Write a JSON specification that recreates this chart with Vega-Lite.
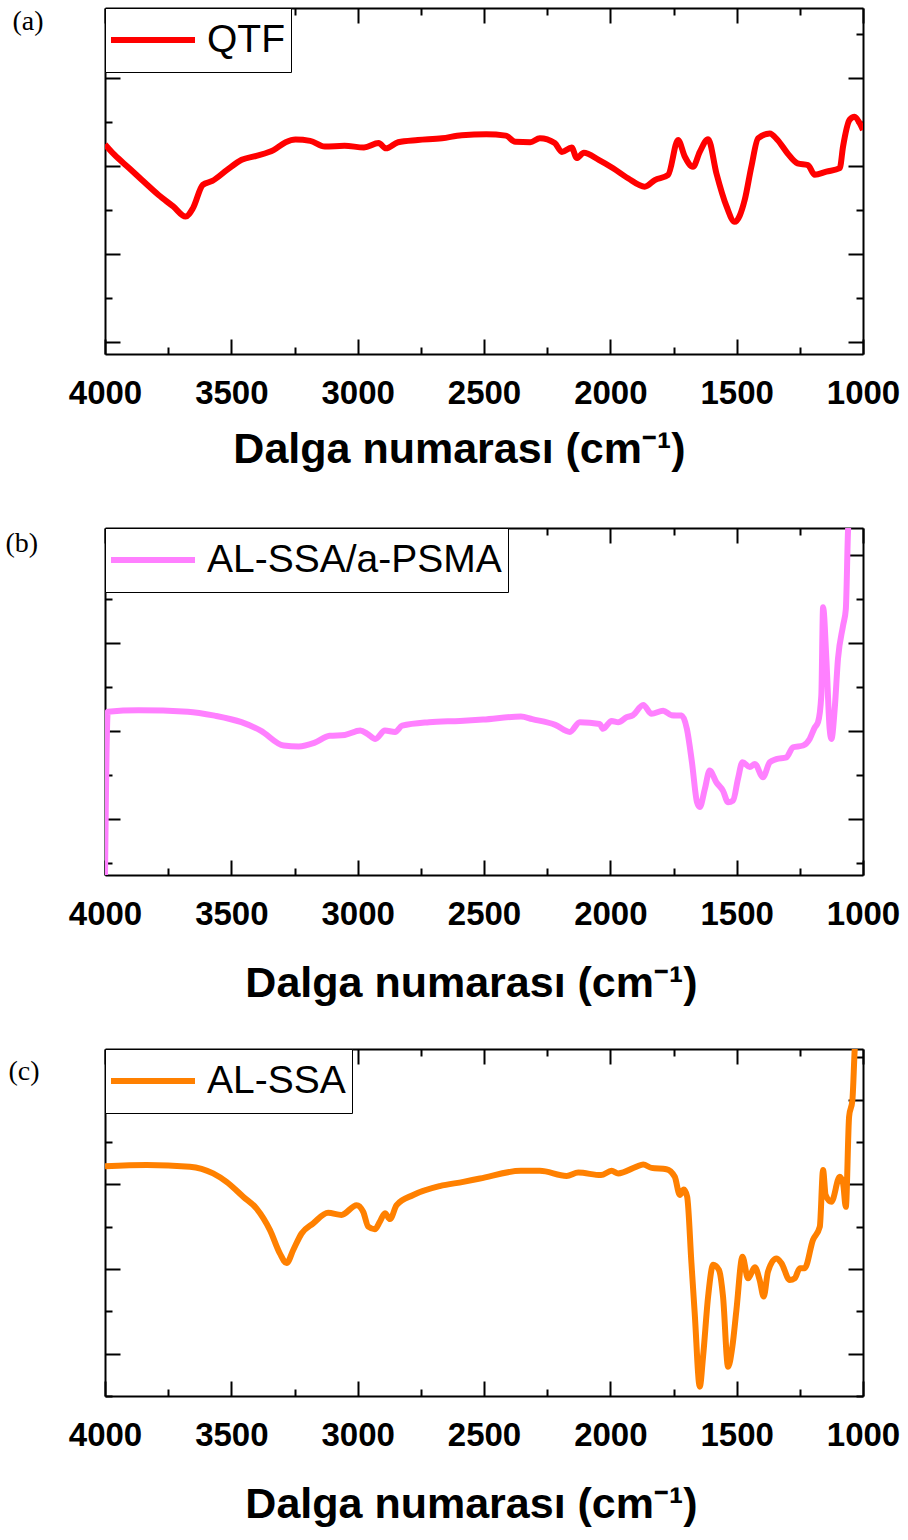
{
  "$schema": "https://vega.github.io/schema/vega-lite/v6.json",
  "background": "white",
  "padding": {"left": 5, "top": 7, "right": 5, "bottom": 5},
  "bounds": "flush",
  "spacing": 174,
  "config": {
    "view": {"stroke": null},
    "axis": {"grid": false, "domainColor": "black", "domainWidth": 2, "tickColor": "black", "tickWidth": 2, "labelColor": "black", "titleColor": "black"},
    "legend": {"orient": "top-left", "offset": 0, "strokeColor": "black", "strokeWidth": 1, "fillColor": "white", "padding": 6, "clipHeight": 52, "symbolType": "stroke", "symbolSize": 7396, "symbolStrokeWidth": 6, "symbolOffset": -5, "labelFontSize": 39, "labelFont": "Liberation Sans", "labelColor": "black", "labelOffset": 9, "labelLimit": 0}
  },
  "resolve": {"scale": {"x": "independent", "y": "independent", "color": "independent"}, "legend": {"color": "independent"}},
  "datasets": {
    "a": [
      {"wn": 4000, "t": 4.49, "s": "QTF"}, {"wn": 3962, "t": 4.25, "s": "QTF"}, {"wn": 3904, "t": 3.95, "s": "QTF"},
      {"wn": 3846, "t": 3.64, "s": "QTF"}, {"wn": 3788, "t": 3.34, "s": "QTF"}, {"wn": 3730, "t": 3.08, "s": "QTF"},
      {"wn": 3681, "t": 2.85, "s": "QTF"}, {"wn": 3652, "t": 3.04, "s": "QTF"}, {"wn": 3613, "t": 3.57, "s": "QTF"},
      {"wn": 3575, "t": 3.66, "s": "QTF"}, {"wn": 3517, "t": 3.91, "s": "QTF"}, {"wn": 3459, "t": 4.14, "s": "QTF"},
      {"wn": 3401, "t": 4.23, "s": "QTF"}, {"wn": 3333, "t": 4.36, "s": "QTF"}, {"wn": 3285, "t": 4.54, "s": "QTF"},
      {"wn": 3246, "t": 4.60, "s": "QTF"}, {"wn": 3188, "t": 4.57, "s": "QTF"}, {"wn": 3130, "t": 4.44, "s": "QTF"},
      {"wn": 3052, "t": 4.46, "s": "QTF"}, {"wn": 2975, "t": 4.42, "s": "QTF"}, {"wn": 2917, "t": 4.52, "s": "QTF"},
      {"wn": 2888, "t": 4.40, "s": "QTF"}, {"wn": 2840, "t": 4.54, "s": "QTF"}, {"wn": 2762, "t": 4.59, "s": "QTF"},
      {"wn": 2666, "t": 4.63, "s": "QTF"}, {"wn": 2588, "t": 4.70, "s": "QTF"}, {"wn": 2491, "t": 4.72, "s": "QTF"},
      {"wn": 2414, "t": 4.69, "s": "QTF"}, {"wn": 2376, "t": 4.55, "s": "QTF"}, {"wn": 2317, "t": 4.54, "s": "QTF"},
      {"wn": 2279, "t": 4.63, "s": "QTF"}, {"wn": 2220, "t": 4.52, "s": "QTF"}, {"wn": 2192, "t": 4.32, "s": "QTF"},
      {"wn": 2153, "t": 4.42, "s": "QTF"}, {"wn": 2133, "t": 4.18, "s": "QTF"}, {"wn": 2105, "t": 4.30, "s": "QTF"},
      {"wn": 2046, "t": 4.14, "s": "QTF"}, {"wn": 1989, "t": 3.95, "s": "QTF"}, {"wn": 1930, "t": 3.72, "s": "QTF"},
      {"wn": 1864, "t": 3.53, "s": "QTF"}, {"wn": 1824, "t": 3.68, "s": "QTF"}, {"wn": 1771, "t": 3.80, "s": "QTF"},
      {"wn": 1732, "t": 4.59, "s": "QTF"}, {"wn": 1705, "t": 4.21, "s": "QTF"}, {"wn": 1673, "t": 3.98, "s": "QTF"},
      {"wn": 1646, "t": 4.32, "s": "QTF"}, {"wn": 1613, "t": 4.61, "s": "QTF"}, {"wn": 1580, "t": 3.83, "s": "QTF"},
      {"wn": 1540, "t": 3.08, "s": "QTF"}, {"wn": 1508, "t": 2.73, "s": "QTF"}, {"wn": 1468, "t": 3.23, "s": "QTF"},
      {"wn": 1442, "t": 3.98, "s": "QTF"}, {"wn": 1415, "t": 4.63, "s": "QTF"}, {"wn": 1369, "t": 4.74, "s": "QTF"},
      {"wn": 1338, "t": 4.59, "s": "QTF"}, {"wn": 1299, "t": 4.29, "s": "QTF"}, {"wn": 1259, "t": 4.06, "s": "QTF"},
      {"wn": 1218, "t": 4.02, "s": "QTF"}, {"wn": 1191, "t": 3.80, "s": "QTF"}, {"wn": 1145, "t": 3.87, "s": "QTF"},
      {"wn": 1092, "t": 3.95, "s": "QTF"}, {"wn": 1079, "t": 4.44, "s": "QTF"}, {"wn": 1053, "t": 5.05, "s": "QTF"},
      {"wn": 1033, "t": 5.12, "s": "QTF"}, {"wn": 1013, "t": 4.97, "s": "QTF"}, {"wn": 1000, "t": 4.82, "s": "QTF"}
    ],
    "b": [
      {"wn": 4000, "t": -0.3, "s": "AL-SSA/a-PSMA"}, {"wn": 3989, "t": 3.44, "s": "AL-SSA/a-PSMA"}, {"wn": 3868, "t": 3.47, "s": "AL-SSA/a-PSMA"},
      {"wn": 3672, "t": 3.44, "s": "AL-SSA/a-PSMA"}, {"wn": 3566, "t": 3.35, "s": "AL-SSA/a-PSMA"}, {"wn": 3460, "t": 3.20, "s": "AL-SSA/a-PSMA"},
      {"wn": 3384, "t": 3.01, "s": "AL-SSA/a-PSMA"}, {"wn": 3293, "t": 2.67, "s": "AL-SSA/a-PSMA"}, {"wn": 3233, "t": 2.65, "s": "AL-SSA/a-PSMA"},
      {"wn": 3172, "t": 2.73, "s": "AL-SSA/a-PSMA"}, {"wn": 3111, "t": 2.89, "s": "AL-SSA/a-PSMA"}, {"wn": 3051, "t": 2.91, "s": "AL-SSA/a-PSMA"},
      {"wn": 2990, "t": 3.01, "s": "AL-SSA/a-PSMA"}, {"wn": 2960, "t": 2.93, "s": "AL-SSA/a-PSMA"}, {"wn": 2930, "t": 2.82, "s": "AL-SSA/a-PSMA"},
      {"wn": 2892, "t": 3.01, "s": "AL-SSA/a-PSMA"}, {"wn": 2852, "t": 2.98, "s": "AL-SSA/a-PSMA"}, {"wn": 2824, "t": 3.12, "s": "AL-SSA/a-PSMA"},
      {"wn": 2718, "t": 3.20, "s": "AL-SSA/a-PSMA"}, {"wn": 2595, "t": 3.23, "s": "AL-SSA/a-PSMA"}, {"wn": 2504, "t": 3.26, "s": "AL-SSA/a-PSMA"},
      {"wn": 2354, "t": 3.33, "s": "AL-SSA/a-PSMA"}, {"wn": 2309, "t": 3.27, "s": "AL-SSA/a-PSMA"}, {"wn": 2218, "t": 3.14, "s": "AL-SSA/a-PSMA"},
      {"wn": 2160, "t": 2.98, "s": "AL-SSA/a-PSMA"}, {"wn": 2121, "t": 3.20, "s": "AL-SSA/a-PSMA"}, {"wn": 2042, "t": 3.16, "s": "AL-SSA/a-PSMA"},
      {"wn": 2029, "t": 3.05, "s": "AL-SSA/a-PSMA"}, {"wn": 1995, "t": 3.23, "s": "AL-SSA/a-PSMA"}, {"wn": 1969, "t": 3.20, "s": "AL-SSA/a-PSMA"},
      {"wn": 1936, "t": 3.31, "s": "AL-SSA/a-PSMA"}, {"wn": 1910, "t": 3.36, "s": "AL-SSA/a-PSMA"}, {"wn": 1870, "t": 3.59, "s": "AL-SSA/a-PSMA"},
      {"wn": 1837, "t": 3.39, "s": "AL-SSA/a-PSMA"}, {"wn": 1791, "t": 3.46, "s": "AL-SSA/a-PSMA"}, {"wn": 1758, "t": 3.36, "s": "AL-SSA/a-PSMA"},
      {"wn": 1718, "t": 3.35, "s": "AL-SSA/a-PSMA"}, {"wn": 1697, "t": 3.05, "s": "AL-SSA/a-PSMA"}, {"wn": 1677, "t": 2.29, "s": "AL-SSA/a-PSMA"},
      {"wn": 1657, "t": 1.38, "s": "AL-SSA/a-PSMA"}, {"wn": 1646, "t": 1.27, "s": "AL-SSA/a-PSMA"}, {"wn": 1626, "t": 1.68, "s": "AL-SSA/a-PSMA"},
      {"wn": 1607, "t": 2.10, "s": "AL-SSA/a-PSMA"}, {"wn": 1580, "t": 1.83, "s": "AL-SSA/a-PSMA"}, {"wn": 1554, "t": 1.64, "s": "AL-SSA/a-PSMA"},
      {"wn": 1534, "t": 1.38, "s": "AL-SSA/a-PSMA"}, {"wn": 1514, "t": 1.42, "s": "AL-SSA/a-PSMA"}, {"wn": 1495, "t": 1.91, "s": "AL-SSA/a-PSMA"},
      {"wn": 1477, "t": 2.29, "s": "AL-SSA/a-PSMA"}, {"wn": 1448, "t": 2.18, "s": "AL-SSA/a-PSMA"}, {"wn": 1428, "t": 2.25, "s": "AL-SSA/a-PSMA"},
      {"wn": 1396, "t": 1.95, "s": "AL-SSA/a-PSMA"}, {"wn": 1369, "t": 2.29, "s": "AL-SSA/a-PSMA"}, {"wn": 1343, "t": 2.36, "s": "AL-SSA/a-PSMA"},
      {"wn": 1303, "t": 2.40, "s": "AL-SSA/a-PSMA"}, {"wn": 1277, "t": 2.63, "s": "AL-SSA/a-PSMA"}, {"wn": 1237, "t": 2.67, "s": "AL-SSA/a-PSMA"},
      {"wn": 1211, "t": 2.82, "s": "AL-SSA/a-PSMA"}, {"wn": 1191, "t": 3.08, "s": "AL-SSA/a-PSMA"}, {"wn": 1178, "t": 3.20, "s": "AL-SSA/a-PSMA"},
      {"wn": 1165, "t": 3.80, "s": "AL-SSA/a-PSMA"}, {"wn": 1158, "t": 5.81, "s": "AL-SSA/a-PSMA"}, {"wn": 1145, "t": 4.64, "s": "AL-SSA/a-PSMA"},
      {"wn": 1132, "t": 3.05, "s": "AL-SSA/a-PSMA"}, {"wn": 1125, "t": 2.82, "s": "AL-SSA/a-PSMA"}, {"wn": 1112, "t": 3.50, "s": "AL-SSA/a-PSMA"},
      {"wn": 1099, "t": 4.64, "s": "AL-SSA/a-PSMA"}, {"wn": 1079, "t": 5.39, "s": "AL-SSA/a-PSMA"}, {"wn": 1068, "t": 5.77, "s": "AL-SSA/a-PSMA"},
      {"wn": 1059, "t": 7.59, "s": "AL-SSA/a-PSMA"}, {"wn": 1056, "t": 7.9, "s": "AL-SSA/a-PSMA"}
    ],
    "c": [
      {"wn": 4000, "t": 4.43, "s": "AL-SSA"}, {"wn": 3835, "t": 4.46, "s": "AL-SSA"}, {"wn": 3664, "t": 4.42, "s": "AL-SSA"},
      {"wn": 3572, "t": 4.26, "s": "AL-SSA"}, {"wn": 3519, "t": 4.06, "s": "AL-SSA"}, {"wn": 3453, "t": 3.71, "s": "AL-SSA"},
      {"wn": 3400, "t": 3.43, "s": "AL-SSA"}, {"wn": 3347, "t": 2.92, "s": "AL-SSA"}, {"wn": 3308, "t": 2.37, "s": "AL-SSA"},
      {"wn": 3281, "t": 2.14, "s": "AL-SSA"}, {"wn": 3255, "t": 2.45, "s": "AL-SSA"}, {"wn": 3222, "t": 2.84, "s": "AL-SSA"},
      {"wn": 3176, "t": 3.08, "s": "AL-SSA"}, {"wn": 3117, "t": 3.33, "s": "AL-SSA"}, {"wn": 3064, "t": 3.28, "s": "AL-SSA"},
      {"wn": 3004, "t": 3.51, "s": "AL-SSA"}, {"wn": 2978, "t": 3.35, "s": "AL-SSA"}, {"wn": 2958, "t": 3.00, "s": "AL-SSA"},
      {"wn": 2932, "t": 2.94, "s": "AL-SSA"}, {"wn": 2912, "t": 3.12, "s": "AL-SSA"}, {"wn": 2892, "t": 3.32, "s": "AL-SSA"},
      {"wn": 2872, "t": 3.18, "s": "AL-SSA"}, {"wn": 2846, "t": 3.51, "s": "AL-SSA"}, {"wn": 2780, "t": 3.75, "s": "AL-SSA"},
      {"wn": 2675, "t": 3.96, "s": "AL-SSA"}, {"wn": 2582, "t": 4.06, "s": "AL-SSA"}, {"wn": 2516, "t": 4.14, "s": "AL-SSA"},
      {"wn": 2354, "t": 4.32, "s": "AL-SSA"}, {"wn": 2279, "t": 4.32, "s": "AL-SSA"}, {"wn": 2173, "t": 4.20, "s": "AL-SSA"},
      {"wn": 2127, "t": 4.28, "s": "AL-SSA"}, {"wn": 2037, "t": 4.22, "s": "AL-SSA"}, {"wn": 1995, "t": 4.32, "s": "AL-SSA"},
      {"wn": 1969, "t": 4.26, "s": "AL-SSA"}, {"wn": 1896, "t": 4.42, "s": "AL-SSA"}, {"wn": 1870, "t": 4.47, "s": "AL-SSA"},
      {"wn": 1837, "t": 4.39, "s": "AL-SSA"}, {"wn": 1778, "t": 4.36, "s": "AL-SSA"}, {"wn": 1745, "t": 4.18, "s": "AL-SSA"},
      {"wn": 1725, "t": 3.75, "s": "AL-SSA"}, {"wn": 1709, "t": 3.88, "s": "AL-SSA"}, {"wn": 1696, "t": 3.71, "s": "AL-SSA"},
      {"wn": 1679, "t": 2.14, "s": "AL-SSA"}, {"wn": 1666, "t": 0.95, "s": "AL-SSA"}, {"wn": 1646, "t": -0.78, "s": "AL-SSA"},
      {"wn": 1633, "t": -0.07, "s": "AL-SSA"}, {"wn": 1613, "t": 1.35, "s": "AL-SSA"}, {"wn": 1593, "t": 2.10, "s": "AL-SSA"},
      {"wn": 1570, "t": 1.98, "s": "AL-SSA"}, {"wn": 1554, "t": 1.35, "s": "AL-SSA"}, {"wn": 1534, "t": -0.31, "s": "AL-SSA"},
      {"wn": 1517, "t": 0.17, "s": "AL-SSA"}, {"wn": 1501, "t": 1.03, "s": "AL-SSA"}, {"wn": 1477, "t": 2.29, "s": "AL-SSA"},
      {"wn": 1455, "t": 1.78, "s": "AL-SSA"}, {"wn": 1428, "t": 2.04, "s": "AL-SSA"}, {"wn": 1409, "t": 1.74, "s": "AL-SSA"},
      {"wn": 1393, "t": 1.35, "s": "AL-SSA"}, {"wn": 1376, "t": 1.94, "s": "AL-SSA"}, {"wn": 1343, "t": 2.25, "s": "AL-SSA"},
      {"wn": 1323, "t": 2.14, "s": "AL-SSA"}, {"wn": 1290, "t": 1.74, "s": "AL-SSA"}, {"wn": 1270, "t": 1.78, "s": "AL-SSA"},
      {"wn": 1250, "t": 2.02, "s": "AL-SSA"}, {"wn": 1231, "t": 2.02, "s": "AL-SSA"}, {"wn": 1198, "t": 2.69, "s": "AL-SSA"},
      {"wn": 1171, "t": 3.00, "s": "AL-SSA"}, {"wn": 1158, "t": 4.34, "s": "AL-SSA"}, {"wn": 1148, "t": 3.75, "s": "AL-SSA"},
      {"wn": 1125, "t": 3.59, "s": "AL-SSA"}, {"wn": 1092, "t": 4.18, "s": "AL-SSA"}, {"wn": 1079, "t": 4.03, "s": "AL-SSA"},
      {"wn": 1068, "t": 3.47, "s": "AL-SSA"}, {"wn": 1055, "t": 5.60, "s": "AL-SSA"}, {"wn": 1042, "t": 5.99, "s": "AL-SSA"},
      {"wn": 1033, "t": 7.17, "s": "AL-SSA"}, {"wn": 1030, "t": 7.5, "s": "AL-SSA"}
    ]
  },
  "vconcat": [
    {
      "width": 758, "height": 346,
      "data": {"name": "a"},
      "layer": [
        {
          "mark": {"type": "line", "strokeWidth": 6, "clip": true, "interpolate": "monotone"},
          "encoding": {
            "x": {"field": "wn", "type": "quantitative", "scale": {"domain": [1000, 4000], "reverse": true, "nice": false, "zero": false},
              "axis": {"orient": "bottom", "values": [1000, 1250, 1500, 1750, 2000, 2250, 2500, 2750, 3000, 3250, 3500, 3750, 4000], "format": "d",
                "labelExpr": "datum.value % 500 === 0 ? datum.label : ''",
                "tickSize": {"condition": {"test": "datum.value % 500 === 0", "value": -15}, "value": -7},
                "labelPadding": 38, "labelFont": "Liberation Sans", "labelFontWeight": "bold", "labelFontSize": 33, "labelFlush": false, "labelOverlap": false,
                "title": "Dalga numarası (cm⁻¹)", "titleFont": "Liberation Sans", "titleFontWeight": "bold", "titleFontSize": 43,
                "titleAlign": "center", "titleBaseline": "alphabetic", "titleX": 354, "titleY": 108}},
            "y": {"field": "t", "type": "quantitative", "scale": {"domain": [-0.273, 7.59], "nice": false, "zero": false},
              "axis": {"orient": "left", "values": [0, 1, 2, 3, 4, 5, 6, 7], "labels": false,
                "tickSize": {"condition": {"test": "datum.value % 2 === 0", "value": -15}, "value": -7},
                "title": "(a)", "titleAngle": 0, "titleAlign": "left", "titleBaseline": "top", "titleX": -93, "titleY": -1,
                "titleFont": "Liberation Serif", "titleFontSize": 28, "titleFontWeight": "normal"}},
            "color": {"field": "s", "type": "nominal", "scale": {"domain": ["QTF"], "range": ["#ff0000"]}, "legend": {"title": null}}
          }
        },
        {
          "mark": {"type": "line", "opacity": 0},
          "encoding": {
            "x": {"field": "wn", "type": "quantitative", "scale": {"domain": [1000, 4000], "reverse": true, "nice": false, "zero": false},
              "axis": {"orient": "top", "values": [1000, 1250, 1500, 1750, 2000, 2250, 2500, 2750, 3000, 3250, 3500, 3750, 4000], "labels": false, "title": null,
                "tickSize": {"condition": {"test": "datum.value % 500 === 0", "value": -15}, "value": -7}}},
            "y": {"field": "t", "type": "quantitative", "scale": {"domain": [-0.273, 7.59], "nice": false, "zero": false},
              "axis": {"orient": "right", "values": [0, 1, 2, 3, 4, 5, 6, 7], "labels": false, "title": null,
                "tickSize": {"condition": {"test": "datum.value % 2 === 0", "value": -15}, "value": -7}}}
          }
        }
      ],
      "resolve": {"axis": {"x": "independent", "y": "independent"}}
    },
    {
      "width": 758, "height": 347,
      "data": {"name": "b"},
      "layer": [
        {
          "mark": {"type": "line", "strokeWidth": 6, "clip": true, "interpolate": "monotone"},
          "encoding": {
            "x": {"field": "wn", "type": "quantitative", "scale": {"domain": [1000, 4000], "reverse": true, "nice": false, "zero": false},
              "axis": {"orient": "bottom", "values": [1000, 1250, 1500, 1750, 2000, 2250, 2500, 2750, 3000, 3250, 3500, 3750, 4000], "format": "d",
                "labelExpr": "datum.value % 500 === 0 ? datum.label : ''",
                "tickSize": {"condition": {"test": "datum.value % 500 === 0", "value": -15}, "value": -7},
                "labelPadding": 38, "labelFont": "Liberation Sans", "labelFontWeight": "bold", "labelFontSize": 33, "labelFlush": false, "labelOverlap": false,
                "title": "Dalga numarası (cm⁻¹)", "titleFont": "Liberation Sans", "titleFontWeight": "bold", "titleFontSize": 43,
                "titleAlign": "center", "titleBaseline": "alphabetic", "titleX": 366, "titleY": 121}},
            "y": {"field": "t", "type": "quantitative", "scale": {"domain": [-0.273, 7.614], "nice": false, "zero": false},
              "axis": {"orient": "left", "values": [0, 1, 2, 3, 4, 5, 6, 7], "labels": false,
                "tickSize": {"condition": {"test": "datum.value % 2 === 1", "value": -15}, "value": -7},
                "title": "(b)", "titleAngle": 0, "titleAlign": "left", "titleBaseline": "top", "titleX": -100, "titleY": 1,
                "titleFont": "Liberation Serif", "titleFontSize": 28, "titleFontWeight": "normal"}},
            "color": {"field": "s", "type": "nominal", "scale": {"domain": ["AL-SSA/a-PSMA"], "range": ["#ff80ff"]}, "legend": {"title": null}}
          }
        },
        {
          "mark": {"type": "line", "opacity": 0},
          "encoding": {
            "x": {"field": "wn", "type": "quantitative", "scale": {"domain": [1000, 4000], "reverse": true, "nice": false, "zero": false},
              "axis": {"orient": "top", "values": [1000, 1250, 1500, 1750, 2000, 2250, 2500, 2750, 3000, 3250, 3500, 3750, 4000], "labels": false, "title": null,
                "tickSize": {"condition": {"test": "datum.value % 500 === 0", "value": -15}, "value": -7}}},
            "y": {"field": "t", "type": "quantitative", "scale": {"domain": [-0.273, 7.614], "nice": false, "zero": false},
              "axis": {"orient": "right", "values": [0, 1, 2, 3, 4, 5, 6, 7], "labels": false, "title": null,
                "tickSize": {"condition": {"test": "datum.value % 2 === 1", "value": -15}, "value": -7}}}
          }
        }
      ],
      "resolve": {"axis": {"x": "independent", "y": "independent"}}
    },
    {
      "width": 758, "height": 347,
      "data": {"name": "c"},
      "layer": [
        {
          "mark": {"type": "line", "strokeWidth": 6, "clip": true, "interpolate": "monotone"},
          "encoding": {
            "x": {"field": "wn", "type": "quantitative", "scale": {"domain": [1000, 4000], "reverse": true, "nice": false, "zero": false},
              "axis": {"orient": "bottom", "values": [1000, 1250, 1500, 1750, 2000, 2250, 2500, 2750, 3000, 3250, 3500, 3750, 4000], "format": "d",
                "labelExpr": "datum.value % 500 === 0 ? datum.label : ''",
                "tickSize": {"condition": {"test": "datum.value % 500 === 0", "value": -15}, "value": -7},
                "labelPadding": 38, "labelFont": "Liberation Sans", "labelFontWeight": "bold", "labelFontSize": 33, "labelFlush": false, "labelOverlap": false,
                "title": "Dalga numarası (cm⁻¹)", "titleFont": "Liberation Sans", "titleFontWeight": "bold", "titleFontSize": 43,
                "titleAlign": "center", "titleBaseline": "alphabetic", "titleX": 366, "titleY": 121}},
            "y": {"field": "t", "type": "quantitative", "scale": {"domain": [-1.0, 7.2], "nice": false, "zero": false},
              "axis": {"orient": "left", "values": [-1, 0, 1, 2, 3, 4, 5, 6, 7], "labels": false,
                "tickSize": {"condition": {"test": "datum.value % 2 === 0", "value": -15}, "value": -7},
                "title": "(c)", "titleAngle": 0, "titleAlign": "left", "titleBaseline": "top", "titleX": -97, "titleY": 8,
                "titleFont": "Liberation Serif", "titleFontSize": 28, "titleFontWeight": "normal"}},
            "color": {"field": "s", "type": "nominal", "scale": {"domain": ["AL-SSA"], "range": ["#ff8000"]}, "legend": {"title": null}}
          }
        },
        {
          "mark": {"type": "line", "opacity": 0},
          "encoding": {
            "x": {"field": "wn", "type": "quantitative", "scale": {"domain": [1000, 4000], "reverse": true, "nice": false, "zero": false},
              "axis": {"orient": "top", "values": [1000, 1250, 1500, 1750, 2000, 2250, 2500, 2750, 3000, 3250, 3500, 3750, 4000], "labels": false, "title": null,
                "tickSize": {"condition": {"test": "datum.value % 500 === 0", "value": -15}, "value": -7}}},
            "y": {"field": "t", "type": "quantitative", "scale": {"domain": [-1.0, 7.2], "nice": false, "zero": false},
              "axis": {"orient": "right", "values": [-1, 0, 1, 2, 3, 4, 5, 6, 7], "labels": false, "title": null,
                "tickSize": {"condition": {"test": "datum.value % 2 === 0", "value": -15}, "value": -7}}}
          }
        }
      ],
      "resolve": {"axis": {"x": "independent", "y": "independent"}}
    }
  ]
}
